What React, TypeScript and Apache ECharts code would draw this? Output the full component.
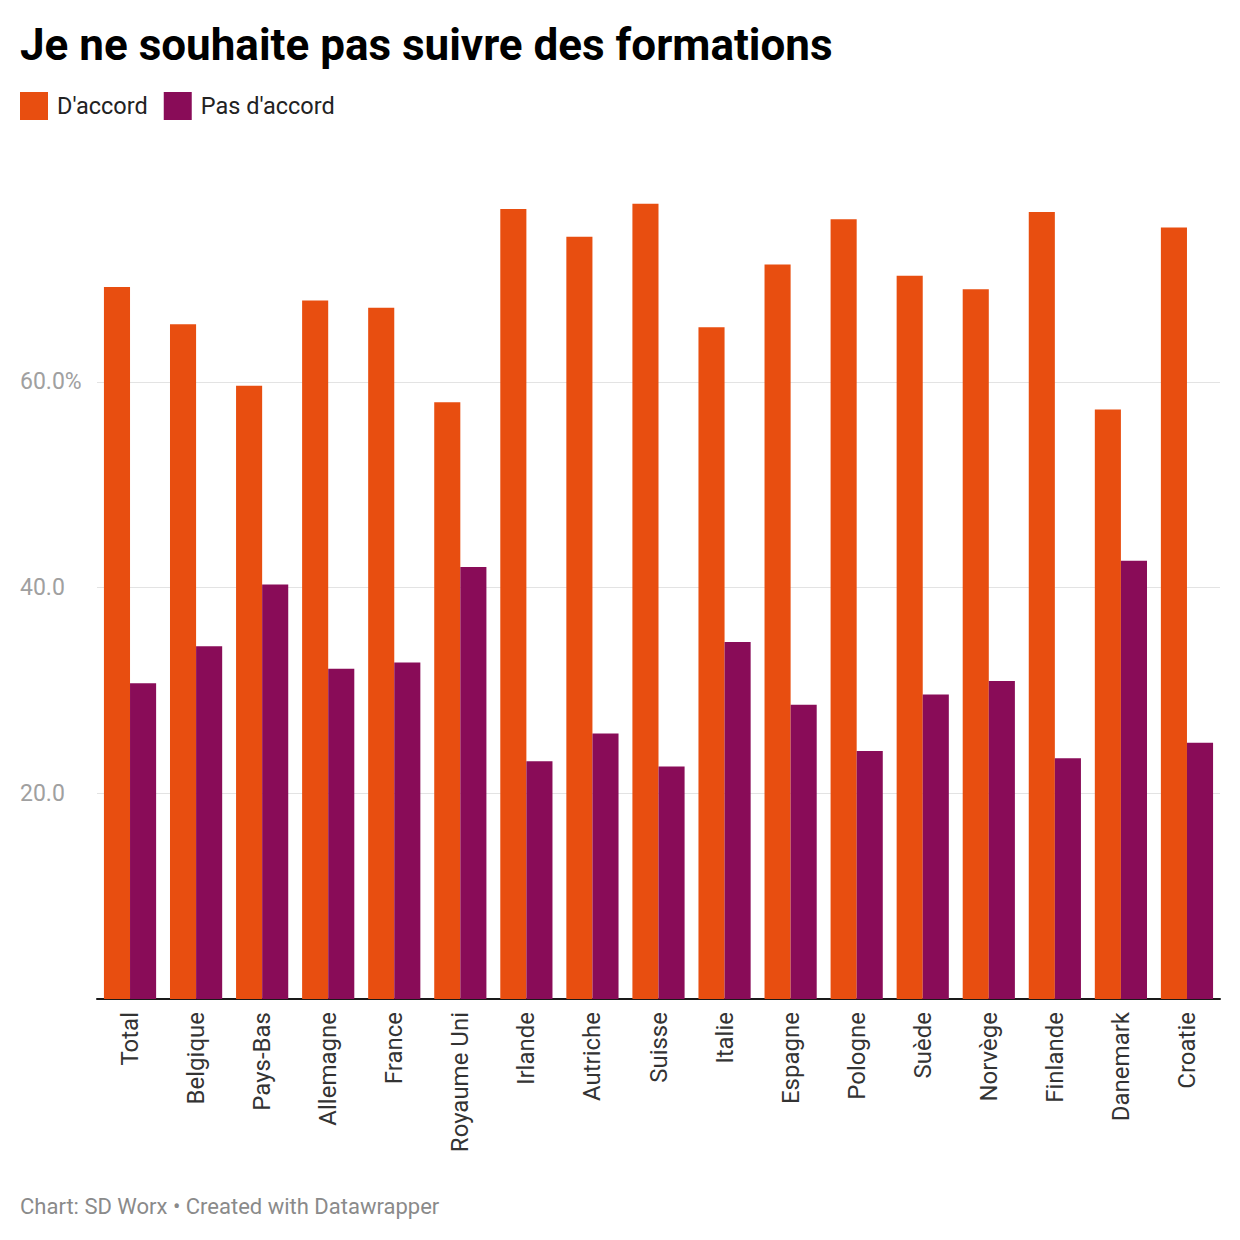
import React, { useEffect, useRef } from "react";
import * as echarts from "echarts";

const categories = ["Total", "Belgique", "Pays-Bas", "Allemagne", "France", "Royaume Uni", "Irlande", "Autriche", "Suisse", "Italie", "Espagne", "Pologne", "Suède", "Norvège", "Finlande", "Danemark", "Croatie"];
const daccord = [69.2, 65.6, 59.6, 67.9, 67.2, 58.0, 76.8, 74.1, 77.3, 65.3, 71.4, 75.8, 70.3, 69.0, 76.5, 57.3, 75.0];
const pasDaccord = [30.7, 34.3, 40.3, 32.1, 32.7, 42.0, 23.1, 25.8, 22.6, 34.7, 28.6, 24.1, 29.6, 30.9, 23.4, 42.6, 24.9];
const tickLabels: Record<number, string> = { 20: "20.0", 40: "40.0", 60: "60.0%" };

const title = "Je ne souhaite pas suivre des formations";
const footer = "Chart: SD Worx • Created with Datawrapper";

export default function App() {
  const ref = useRef<HTMLDivElement>(null);
  useEffect(() => {
    if (!ref.current) return;
    const chart = echarts.init(ref.current, undefined, { renderer: "svg" });
    const font = "Roboto, 'Noto Sans', sans-serif";
    chart.setOption({
      animation: false,
      backgroundColor: "#ffffff",
      textStyle: { fontFamily: font },
      title: [
        {
          text: title,
          left: 20,
          top: 23,
          padding: 0,
          textStyle: { fontFamily: font, fontSize: 44, fontWeight: "bold", color: "#000000" },
        },
        {
          text: footer,
          left: 20,
          top: 1195,
          padding: 0,
          textStyle: { fontFamily: font, fontSize: 22, fontWeight: "normal", color: "#8a8a8a" },
        },
      ],
      legend: {
        left: 15,
        top: 87,
        itemWidth: 28,
        itemHeight: 28,
        itemGap: 16,
        icon: "rect",
        textStyle: { fontFamily: font, fontSize: 23.5, color: "#222222", padding: [0, 0, 0, 4] },
        data: ["D'accord", "Pas d'accord"],
      },
      grid: { left: 97, right: 20, top: 176, bottom: 241, containLabel: false },
      xAxis: {
        type: "category",
        data: categories,
        axisLine: { show: true, lineStyle: { color: "#1a1a1a", width: 2 } },
        axisTick: { show: false },
        axisLabel: {
          rotate: 90,
          margin: 13,
          fontFamily: font,
          fontSize: 24,
          color: "#333333",
          interval: 0,
        },
      },
      yAxis: {
        type: "value",
        min: 0,
        max: 80,
        interval: 20,
        axisLine: { show: false },
        axisTick: { show: false },
        splitLine: { show: true, showMaxLine: false, showMinLine: false, lineStyle: { color: "#e3e3e3", width: 1 } },
        axisLabel: {
          align: "left",
          margin: 77,
          fontFamily: font,
          fontSize: 23,
          color: "#a0a0a0",
          showMaxLabel: false,
          formatter: (v: number) => tickLabels[v] ?? "",
        },
      },
      series: [
        {
          name: "D'accord",
          type: "bar",
          data: daccord,
          barGap: "0%",
          barCategoryGap: "21%",
          itemStyle: { color: "#E84E10" },
        },
        {
          name: "Pas d'accord",
          type: "bar",
          data: pasDaccord,
          barGap: "0%",
          barCategoryGap: "21%",
          itemStyle: { color: "#890C58" },
        },
      ],
    });
    return () => chart.dispose();
  }, []);
  return <div ref={ref} style={{ width: 1240, height: 1240, position: "absolute", left: 0, top: 0 }} />;
}
